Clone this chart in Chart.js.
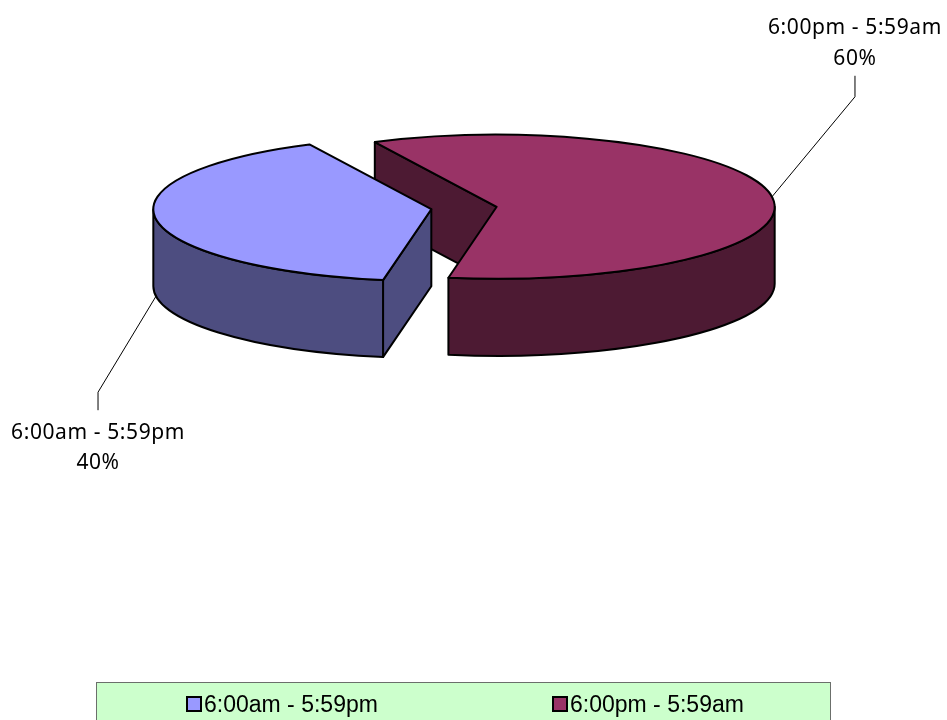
<!DOCTYPE html>
<html>
<head>
<meta charset="utf-8">
<style>
  html, body { margin: 0; padding: 0; background: #fff; overflow: hidden; }
  #wrap { position: relative; width: 947px; height: 720px; }
  canvas { display: block; }
</style>
<script src="https://cdn.jsdelivr.net/npm/chart.js@4/dist/chart.umd.min.js"></script>
</head>
<body>
<div id="wrap"><canvas id="grafico" width="947" height="720"></canvas></div>
<script>
const categorias = ['6:00am - 5:59pm', '6:00pm - 5:59am'];
const valores = [40, 60];
const coresTopo = ['#9999ff', '#993366'];
const coresLado = ['#4d4d80', '#4d1a33'];

// look of the fake 3d pie
const INCLINACAO = 0.259;
const PROFUNDIDADE = 77;
const CONTORNO = 2;
// elbow and end of the leader line, measured from the slice rim
const guias = [
    { dx: -58, dy: 96, fimY: 18, textoY: [41, 71] },
    { dx: 83, dy: -100, fimY: -21, textoY: [-69, -38] }
];
const fonteRotulo = '21px "Noto Sans"';
const fonteLegenda = '23px "Liberation Sans"';

function posicaoArco(arco) {
    const p = arco.getProps(['x', 'y', 'startAngle', 'endAngle', 'outerRadius'], true);
    const meio = (p.startAngle + p.endAngle) / 2;
    const afasta = arco.options.offset;
    return {
        cx: p.x + Math.cos(meio) * afasta,
        cy: p.y + Math.sin(meio) * afasta * INCLINACAO,
        r: p.outerRadius,
        a: p.startAngle,
        b: p.endAngle,
        meio: meio
    };
}

function parede(ctx, g, s, e) {
    ctx.beginPath();
    ctx.ellipse(g.cx, g.cy, g.r, g.r * INCLINACAO, 0, s, e);
    ctx.ellipse(g.cx, g.cy + PROFUNDIDADE, g.r, g.r * INCLINACAO, 0, e, s, true);
    ctx.closePath();
    ctx.fill();
    ctx.stroke();
}

function corte(ctx, g, ang) {
    const x = g.cx + Math.cos(ang) * g.r;
    const y = g.cy + Math.sin(ang) * g.r * INCLINACAO;
    ctx.beginPath();
    ctx.moveTo(g.cx, g.cy);
    ctx.lineTo(x, y);
    ctx.lineTo(x, y + PROFUNDIDADE);
    ctx.lineTo(g.cx, g.cy + PROFUNDIDADE);
    ctx.closePath();
    ctx.fill();
    ctx.stroke();
}

function desenharFatia(ctx, arco, i) {
    const g = posicaoArco(arco);
    ctx.save();
    ctx.lineJoin = 'round';
    ctx.lineWidth = CONTORNO;
    ctx.strokeStyle = '#000';
    ctx.fillStyle = coresLado[i];

    // cut faces, only the ones turned to the viewer
    if (Math.cos(g.a) < 0) corte(ctx, g, g.a);
    if (Math.cos(g.b) > 0) corte(ctx, g, g.b);

    // outer wall, front half of the ellipse only
    for (let k = -1; k <= 2; k++) {
        const s = Math.max(g.a, k * 2 * Math.PI);
        const e = Math.min(g.b, k * 2 * Math.PI + Math.PI);
        if (e > s) parede(ctx, g, s, e);
    }

    ctx.fillStyle = coresTopo[i];
    ctx.beginPath();
    ctx.moveTo(g.cx, g.cy);
    ctx.ellipse(g.cx, g.cy, g.r, g.r * INCLINACAO, 0, g.a, g.b);
    ctx.closePath();
    ctx.fill();
    ctx.stroke();
    ctx.restore();
}

function desenharRotulo(ctx, arco, i, total) {
    const g = posicaoArco(arco);
    const guia = guias[i];
    const x = g.cx + Math.cos(g.meio) * g.r;
    let y = g.cy + Math.sin(g.meio) * g.r * INCLINACAO;
    if (Math.sin(g.meio) > 0) y += PROFUNDIDADE;
    const cotoveloX = x + guia.dx;
    const cotoveloY = y + guia.dy;

    ctx.save();
    ctx.strokeStyle = '#000';
    ctx.lineWidth = 1;
    ctx.beginPath();
    ctx.moveTo(x, y);
    ctx.lineTo(cotoveloX, cotoveloY);
    ctx.lineTo(cotoveloX, cotoveloY + guia.fimY);
    ctx.stroke();

    ctx.fillStyle = '#000';
    ctx.font = fonteRotulo;
    ctx.letterSpacing = '0.6px';
    ctx.textAlign = 'center';
    ctx.textBaseline = 'middle';
    ctx.fillText(categorias[i], cotoveloX, cotoveloY + guia.textoY[0]);
    ctx.fillText(Math.round(valores[i] / total * 100) + '%', cotoveloX, cotoveloY + guia.textoY[1]);
    ctx.restore();
}

function desenharLegenda(ctx) {
    const xItens = [186, 552];
    ctx.save();
    ctx.fillStyle = '#ccffcc';
    ctx.fillRect(96, 682, 734, 40);
    ctx.strokeStyle = '#6b6f6b';
    ctx.lineWidth = 1;
    ctx.strokeRect(96.5, 682.5, 734, 40);
    ctx.font = fonteLegenda;
    ctx.textBaseline = 'middle';
    categorias.forEach(function (nome, i) {
        ctx.fillStyle = coresTopo[i];
        ctx.strokeStyle = '#000';
        ctx.lineWidth = 2;
        ctx.fillRect(xItens[i] + 1, 697, 14, 14);
        ctx.strokeRect(xItens[i] + 1, 697, 14, 14);
        ctx.fillStyle = '#000';
        ctx.fillText(nome, xItens[i] + 18, 705.5);
    });
    ctx.restore();
}

const pizza3d = {
    id: 'pizza3d',
    beforeDatasetsDraw(chart) {
        const ctx = chart.ctx;
        const arcos = chart.getDatasetMeta(0).data;
        const total = valores.reduce(function (s, v) { return s + v; }, 0);
        // back slice first so the front one covers it
        for (let i = arcos.length - 1; i >= 0; i--) desenharFatia(ctx, arcos[i], i);
        arcos.forEach(function (arco, i) { desenharRotulo(ctx, arco, i, total); });
        desenharLegenda(ctx);
        return false;
    }
};

new Chart(document.getElementById('grafico'), {
    type: 'pie',
    data: {
        labels: categorias,
        datasets: [{
            data: valores,
            backgroundColor: coresTopo,
            borderColor: '#000',
            offset: 33
        }]
    },
    options: {
        responsive: false,
        animation: false,
        radius: 278,
        rotation: 190,
        layout: { padding: { right: 19, bottom: 304 } },
        plugins: { legend: { display: false }, tooltip: { enabled: false } }
    },
    plugins: [pizza3d]
});
</script>
</body>
</html>
